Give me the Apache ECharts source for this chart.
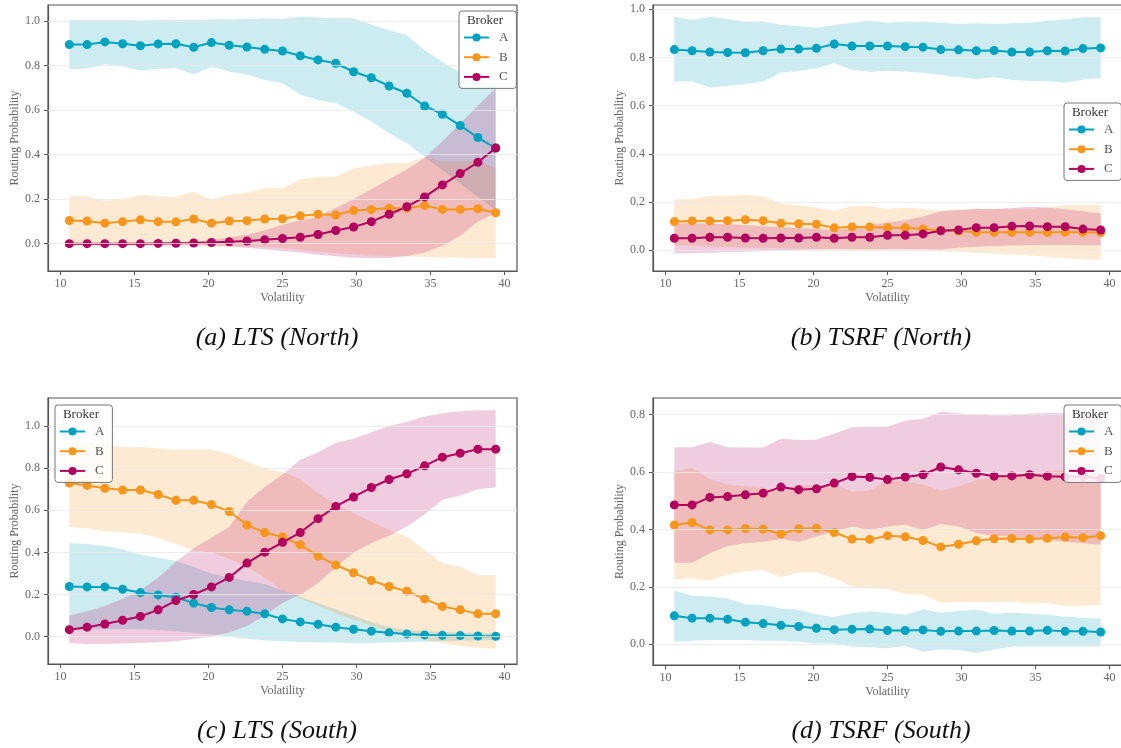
<!DOCTYPE html>
<html><head><meta charset="utf-8">
<script src="https://cdn.jsdelivr.net/npm/echarts@6/dist/echarts.min.js"></script>
<style>html,body{margin:0;padding:0;background:#fff}#c{width:1121px;height:748px}</style>
</head><body><div id="c"></div>
<script>
// ---------- data ----------
const VOL = [10.6,11.8,13.0,14.2,15.4,16.6,17.8,19.0,20.2,21.4,22.6,23.8,25.0,26.2,27.4,28.6,29.8,31.0,32.2,33.4,34.6,35.8,37.0,38.2,39.4];
const X_TICKS = [10,15,20,25,30,35,40];
const Y_TICKS_10 = [0,0.2,0.4,0.6,0.8,1.0];
const Y_TICKS_08 = [0,0.2,0.4,0.6,0.8];
const BROKERS = ['A','B','C'];
const CAPTIONS = ['(a) LTS (North)','(b) TSRF (North)','(c) LTS (South)','(d) TSRF (South)'];

// (a) LTS North
const aA    = [0.895,0.895,0.907,0.899,0.890,0.898,0.899,0.883,0.904,0.892,0.884,0.874,0.866,0.845,0.826,0.811,0.773,0.746,0.709,0.676,0.619,0.582,0.531,0.477,0.430];
const aA_lo = [0.784,0.788,0.808,0.796,0.778,0.786,0.789,0.760,0.796,0.774,0.760,0.736,0.721,0.669,0.646,0.631,0.594,0.549,0.496,0.451,0.390,0.330,0.270,0.210,0.150];
const aA_hi = [1.005,1.005,1.006,1.005,1.003,1.006,1.007,1.005,1.008,1.008,1.010,1.012,1.010,1.020,1.017,1.014,1.013,0.985,0.960,0.938,0.870,0.818,0.770,0.740,0.706];
const aB    = [0.104,0.102,0.092,0.099,0.107,0.099,0.098,0.111,0.092,0.102,0.103,0.111,0.112,0.125,0.132,0.129,0.149,0.153,0.159,0.159,0.171,0.154,0.154,0.157,0.139];
const aB_lo = [-0.012,-0.012,-0.012,-0.012,-0.012,-0.012,-0.012,-0.012,-0.012,-0.012,-0.012,-0.015,-0.020,-0.028,-0.035,-0.042,-0.048,-0.053,-0.056,-0.058,-0.060,-0.062,-0.063,-0.065,-0.066];
const aB_hi = [0.215,0.213,0.193,0.202,0.219,0.213,0.210,0.234,0.199,0.220,0.229,0.249,0.249,0.290,0.301,0.301,0.339,0.351,0.364,0.361,0.391,0.369,0.369,0.376,0.339];
const aC    = [0.000,0.000,0.000,0.000,0.000,0.001,0.002,0.003,0.005,0.008,0.012,0.017,0.023,0.029,0.041,0.059,0.075,0.099,0.132,0.166,0.210,0.264,0.315,0.366,0.430];
const aC_lo = [-0.003,-0.003,-0.003,-0.003,-0.003,-0.003,-0.004,-0.005,-0.008,-0.013,-0.020,-0.025,-0.033,-0.040,-0.050,-0.057,-0.063,-0.066,-0.064,-0.055,-0.040,-0.010,0.035,0.100,0.137];
const aC_hi = [0.003,0.003,0.003,0.003,0.004,0.005,0.007,0.010,0.017,0.028,0.040,0.060,0.085,0.105,0.120,0.160,0.200,0.245,0.290,0.335,0.385,0.460,0.540,0.620,0.699];

// (b) TSRF North
const bA    = [0.833,0.828,0.823,0.821,0.820,0.828,0.835,0.835,0.838,0.856,0.848,0.848,0.848,0.845,0.843,0.833,0.832,0.828,0.829,0.823,0.823,0.828,0.827,0.837,0.840];
const bA_lo = [0.700,0.700,0.676,0.683,0.690,0.700,0.737,0.744,0.755,0.776,0.749,0.741,0.745,0.741,0.737,0.727,0.718,0.711,0.718,0.707,0.703,0.703,0.695,0.709,0.714];
const bA_hi = [0.969,0.956,0.969,0.960,0.949,0.950,0.935,0.931,0.924,0.935,0.944,0.953,0.944,0.948,0.948,0.944,0.939,0.942,0.939,0.942,0.944,0.953,0.958,0.967,0.967];
const bB    = [0.119,0.122,0.122,0.123,0.127,0.123,0.112,0.110,0.108,0.093,0.097,0.097,0.093,0.094,0.088,0.082,0.080,0.075,0.075,0.075,0.075,0.074,0.076,0.075,0.074];
const bB_lo = [0.022,0.020,0.015,0.014,0.012,0.010,0.008,0.006,0.004,0.002,0.000,0.000,0.000,-0.002,-0.003,-0.004,-0.006,-0.010,-0.014,-0.018,-0.022,-0.027,-0.033,-0.037,-0.040];
const bB_hi = [0.212,0.212,0.225,0.226,0.229,0.225,0.192,0.188,0.178,0.164,0.184,0.184,0.171,0.177,0.171,0.164,0.168,0.170,0.172,0.170,0.172,0.178,0.188,0.188,0.188];
const bC    = [0.050,0.050,0.054,0.054,0.051,0.050,0.051,0.051,0.054,0.050,0.054,0.054,0.062,0.062,0.068,0.081,0.084,0.094,0.094,0.100,0.101,0.098,0.098,0.088,0.084];
const bC_lo = [-0.013,-0.012,-0.010,-0.008,-0.006,-0.004,-0.001,0.001,0.003,0.005,0.005,0.005,0.005,0.005,0.004,0.003,0.010,0.015,0.018,0.020,0.021,0.022,0.022,0.021,0.021];
const bC_hi = [0.112,0.112,0.110,0.108,0.105,0.100,0.095,0.092,0.088,0.084,0.090,0.105,0.115,0.125,0.140,0.162,0.167,0.172,0.170,0.175,0.181,0.178,0.170,0.162,0.153];

// (c) LTS South
const cA    = [0.238,0.236,0.236,0.225,0.209,0.198,0.187,0.159,0.138,0.127,0.121,0.108,0.084,0.070,0.059,0.045,0.035,0.026,0.018,0.013,0.008,0.006,0.005,0.003,0.002];
const cA_lo = [0.035,0.035,0.035,0.035,0.035,0.032,0.026,0.018,0.010,0.000,-0.010,-0.018,-0.022,-0.025,-0.027,-0.028,-0.030,-0.030,-0.028,-0.026,-0.024,-0.022,-0.020,-0.018,-0.017];
const cA_hi = [0.444,0.440,0.430,0.415,0.390,0.375,0.360,0.330,0.300,0.280,0.265,0.250,0.220,0.190,0.160,0.130,0.100,0.070,0.045,0.032,0.025,0.022,0.020,0.018,0.016];
const cB    = [0.729,0.718,0.704,0.696,0.696,0.675,0.647,0.647,0.627,0.594,0.530,0.494,0.473,0.436,0.382,0.340,0.303,0.266,0.238,0.216,0.179,0.143,0.127,0.108,0.108];
const cB_lo = [0.520,0.515,0.500,0.495,0.490,0.470,0.440,0.410,0.400,0.370,0.330,0.280,0.220,0.180,0.145,0.110,0.080,0.050,0.025,0.005,-0.015,-0.030,-0.045,-0.053,-0.057];
const cB_hi = [0.927,0.920,0.910,0.900,0.900,0.893,0.888,0.888,0.888,0.867,0.832,0.800,0.780,0.748,0.680,0.630,0.586,0.545,0.507,0.475,0.412,0.349,0.333,0.293,0.293];
const cC    = [0.033,0.045,0.060,0.078,0.096,0.127,0.171,0.200,0.236,0.281,0.349,0.401,0.448,0.494,0.560,0.618,0.663,0.708,0.746,0.773,0.811,0.852,0.871,0.890,0.890];
const cC_lo = [-0.030,-0.035,-0.035,-0.033,-0.030,-0.027,-0.022,-0.010,0.000,0.020,0.050,0.100,0.160,0.200,0.254,0.330,0.400,0.444,0.480,0.523,0.580,0.650,0.670,0.700,0.708];
const cC_hi = [0.100,0.120,0.145,0.180,0.220,0.280,0.355,0.420,0.470,0.520,0.640,0.710,0.770,0.840,0.875,0.920,0.940,0.970,1.000,1.020,1.045,1.060,1.070,1.075,1.075];

// (d) TSRF South
const dA    = [0.099,0.091,0.091,0.087,0.077,0.072,0.066,0.062,0.056,0.051,0.052,0.053,0.048,0.048,0.050,0.045,0.046,0.046,0.048,0.046,0.046,0.049,0.045,0.045,0.043];
const dA_lo = [0.009,0.012,0.015,0.015,0.015,0.012,0.012,0.009,0.003,0.003,-0.008,-0.010,-0.014,-0.006,-0.026,-0.018,-0.020,-0.030,-0.018,-0.008,-0.008,-0.008,-0.008,-0.008,-0.008];
const dA_hi = [0.187,0.169,0.166,0.159,0.139,0.137,0.125,0.120,0.104,0.096,0.108,0.114,0.110,0.103,0.122,0.110,0.116,0.120,0.106,0.110,0.106,0.103,0.096,0.092,0.090];
const dB    = [0.415,0.424,0.398,0.398,0.403,0.401,0.384,0.402,0.404,0.389,0.366,0.365,0.378,0.374,0.361,0.339,0.348,0.360,0.367,0.368,0.366,0.369,0.373,0.371,0.378];
const dB_lo = [0.224,0.230,0.222,0.242,0.253,0.259,0.233,0.250,0.250,0.230,0.200,0.195,0.192,0.175,0.172,0.145,0.147,0.147,0.147,0.148,0.142,0.145,0.132,0.134,0.136];
const dB_hi = [0.601,0.613,0.575,0.555,0.550,0.545,0.532,0.555,0.552,0.557,0.532,0.535,0.572,0.566,0.555,0.535,0.550,0.572,0.578,0.590,0.596,0.601,0.607,0.607,0.601];
const dC    = [0.485,0.485,0.511,0.514,0.520,0.526,0.547,0.538,0.541,0.561,0.584,0.581,0.573,0.582,0.590,0.617,0.607,0.595,0.585,0.586,0.590,0.585,0.583,0.584,0.577];
const dC_lo = [0.284,0.284,0.317,0.342,0.352,0.357,0.366,0.357,0.375,0.392,0.410,0.398,0.410,0.416,0.398,0.419,0.410,0.387,0.377,0.375,0.369,0.363,0.357,0.352,0.346];
const dC_hi = [0.686,0.686,0.704,0.686,0.685,0.685,0.715,0.711,0.713,0.733,0.755,0.757,0.757,0.779,0.784,0.810,0.803,0.800,0.797,0.797,0.803,0.805,0.805,0.807,0.807];

// ---------- style / layout ----------
const COLORS = {A:'#00a2bf', B:'#f8961c', C:'#b3005e'};
const BAND_ALPHA = 0.2;
const FONT = '"Liberation Serif", "DejaVu Serif", serif';

const PANELS = [
  {grid:{left:48, top:5, width:469, height:266}, y:[-0.123,1.073], yt:Y_TICKS_10,
   s:{A:[aA,aA_lo,aA_hi],B:[aB,aB_lo,aB_hi],C:[aC,aC_lo,aC_hi]}, leg:{left:459, top:11, w:52}, cap:[277,338]},
  {grid:{left:653, top:5, width:469, height:266}, y:[-0.086,1.018], yt:Y_TICKS_10,
   s:{A:[bA,bA_lo,bA_hi],B:[bB,bB_lo,bB_hi],C:[bC,bC_lo,bC_hi]}, leg:{left:1064, top:103, w:52}, cap:[881,338]},
  {grid:{left:48, top:398, width:469, height:266}, y:[-0.130,1.133], yt:Y_TICKS_10,
   s:{A:[cA,cA_lo,cA_hi],B:[cB,cB_lo,cB_hi],C:[cC,cC_lo,cC_hi]}, leg:{left:55, top:405, w:52}, cap:[277,731]},
  {grid:{left:653, top:398, width:469, height:267}, y:[-0.072,0.857], yt:Y_TICKS_08,
   s:{A:[dA,dA_lo,dA_hi],B:[dB,dB_lo,dB_hi],C:[dC,dC_lo,dC_hi]}, leg:{left:1064, top:405, w:52}, cap:[881,731]}
];

function rgba(hex, a){
  const n = parseInt(hex.slice(1),16);
  return 'rgba('+((n>>16)&255)+','+((n>>8)&255)+','+(n&255)+','+a+')';
}

const grids=[], xAxes=[], yAxes=[], series=[], legends=[], graphics=[];
PANELS.forEach((p,i)=>{
  grids.push(Object.assign({show:true, borderColor:'#555', borderWidth:1.2, backgroundColor:'transparent', outerBoundsMode:'none', containLabel:false}, p.grid));
  xAxes.push({type:'value', gridIndex:i, min:9.16, max:40.84,
    name:'Volatility', nameLocation:'middle', nameGap:21,
    nameTextStyle:{fontFamily:FONT, fontSize:12, color:'#666'},
    axisLine:{show:true, onZero:false, lineStyle:{color:'#555', width:1.2}},
    axisTick:{show:true, customValues:X_TICKS, length:4, lineStyle:{color:'#555'}},
    axisLabel:{customValues:X_TICKS, margin:7, fontFamily:FONT, fontSize:12, color:'#666', formatter:v=>String(Math.round(v))},
    splitLine:{show:false}});
  yAxes.push({type:'value', gridIndex:i, min:p.y[0], max:p.y[1],
    name:'Routing Probability', nameLocation:'middle', nameGap:27,
    nameTextStyle:{fontFamily:FONT, fontSize:12, color:'#666'},
    axisLine:{show:true, onZero:false, lineStyle:{color:'#555', width:1.2}},
    axisTick:{show:true, customValues:p.yt, length:4, lineStyle:{color:'#555'}},
    axisLabel:{customValues:p.yt, margin:8, fontFamily:FONT, fontSize:12, color:'#666', formatter:v=>v.toFixed(1)},
    splitLine:{show:false}});
  // gridlines
  series.push({type:'line', xAxisIndex:i, yAxisIndex:i, data:[], z:0, silent:true,
    markLine:{silent:true, symbol:'none', animation:false, label:{show:false},
      lineStyle:{color:'#e8e8e8', width:0.8, type:'solid'},
      data:p.yt.map(v=>({yAxis:v}))}});
  // bands
  BROKERS.forEach(b=>{
    const lo = p.s[b][1], hi = p.s[b][2];
    series.push({type:'custom', name:b+' band', xAxisIndex:i, yAxisIndex:i, z:1, silent:true,
      data: VOL.map((x,k)=>[x, lo[k], hi[k]]),
      encode:{x:0, y:[1,2]},
      renderItem:function(params, api){
        if (params.dataIndex !== 0) return null;
        const pts=[];
        for (let k=0;k<VOL.length;k++) pts.push(api.coord([VOL[k], hi[k]]));
        for (let k=VOL.length-1;k>=0;k--) pts.push(api.coord([VOL[k], lo[k]]));
        return {type:'polygon', shape:{points:pts}, style:{fill:rgba(COLORS[b],BAND_ALPHA), stroke:null}};
      }});
  });
  // lines
  BROKERS.forEach(b=>{
    const v = p.s[b][0];
    series.push({type:'line', name:b, xAxisIndex:i, yAxisIndex:i, z:3, silent:true,
      data: VOL.map((x,k)=>[x, v[k]]),
      symbol:'circle', symbolSize:9, showSymbol:true,
      itemStyle:{color:COLORS[b], borderWidth:0},
      lineStyle:{color:COLORS[b], width:2}});
  });
  legends.push({left:p.leg.left, top:p.leg.top, orient:'vertical', data:BROKERS,
    itemWidth:25, itemHeight:10, itemGap:6.7, padding:[20,8,5,4],
    backgroundColor:'rgba(255,255,255,0.85)', borderColor:'#777', borderWidth:1, borderRadius:3,
    selectedMode:false, z:10,
    textStyle:{fontFamily:FONT, fontSize:13, color:'#555', padding:[0,0,0,5]}});
  graphics.push({type:'text', x:p.leg.left+p.leg.w/2, y:p.leg.top+10, z:20,
    style:{text:'Broker', font:'13px '+FONT, fill:'#333', align:'center', verticalAlign:'middle'}});
  graphics.push({type:'text', x:p.cap[0], y:p.cap[1],
    style:{text:CAPTIONS[i], font:'italic 26px '+FONT, fill:'#111', align:'center', verticalAlign:'middle'}});
});

const chart = echarts.init(document.getElementById('c'), null, {renderer:'canvas'});
chart.setOption({
  animation:false,
  backgroundColor:'#fff',
  grid:grids, xAxis:xAxes, yAxis:yAxes, series:series, legend:legends,
  graphic:{elements:graphics}
});
</script></body></html>
